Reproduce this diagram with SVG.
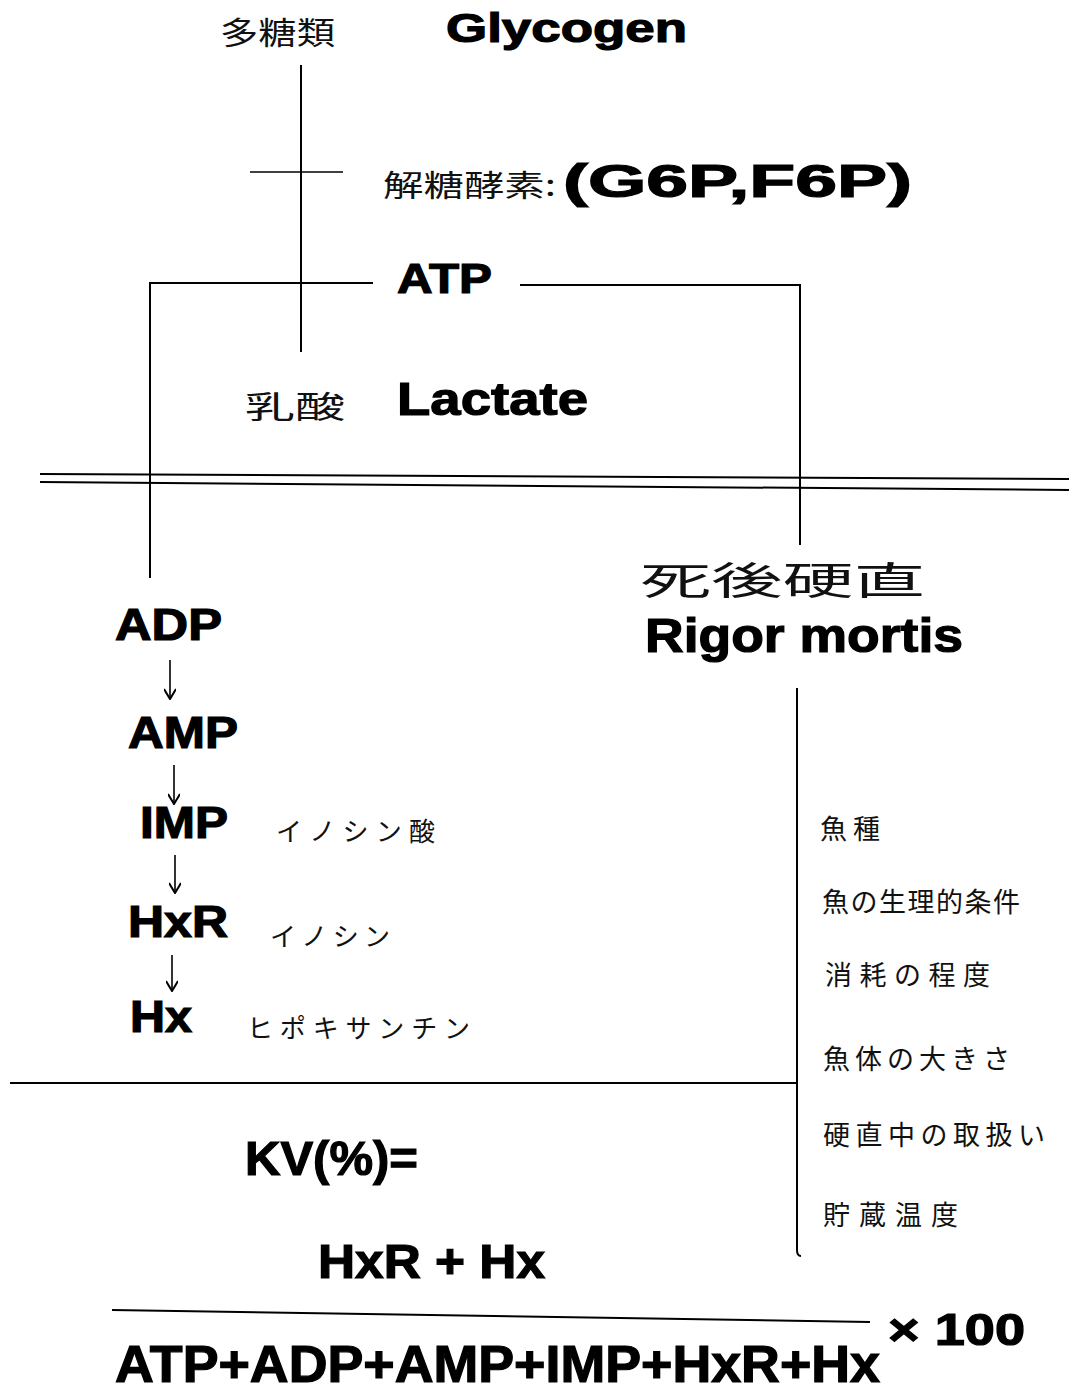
<svg xmlns="http://www.w3.org/2000/svg" width="1069" height="1391" viewBox="0 0 1069 1391">
<defs>
<marker id="ah" viewBox="0 0 12 12" refX="11" refY="6" markerWidth="12" markerHeight="12" markerUnits="userSpaceOnUse" orient="auto">
<path d="M1 0 L11 6 L1 12" fill="none" stroke="#000" stroke-width="2"/>
</marker>
<style>
.b{font-family:"Liberation Sans","DejaVu Sans",Arial,sans-serif;font-weight:bold;fill:#000;stroke:#000;stroke-width:1.2}
.j{font-family:"Noto Sans CJK JP","Noto Sans CJK SC",sans-serif;font-weight:normal;fill:#111}
.ln{stroke:#000;stroke-width:2;fill:none}
.th{stroke:#000;stroke-width:1.6;fill:none}
</style>
</defs>
<rect width="1069" height="1391" fill="#fff"/>
<g id="connectors">
<line class="ln" x1="301" y1="65" x2="301" y2="352"/>
<line class="th" x1="250" y1="172" x2="343" y2="172"/>
<polyline class="ln" points="373,283 150,283 150,578"/>
<polyline class="ln" points="520,285 800,285 800,545"/>
<line class="ln" x1="40" y1="474" x2="1069" y2="479"/>
<line class="ln" x1="40" y1="482" x2="1069" y2="490"/>
<path class="ln" d="M797 688 L797 1250 Q797 1256 801 1256"/>
<line class="ln" x1="10" y1="1083" x2="797" y2="1083"/>
<line class="ln" x1="112" y1="1310" x2="870" y2="1322"/>
<line class="th" x1="170" y1="660" x2="170" y2="699" marker-end="url(#ah)"/>
<line class="th" x1="174" y1="765" x2="174" y2="804" marker-end="url(#ah)"/>
<line class="th" x1="175" y1="855" x2="175" y2="893" marker-end="url(#ah)"/>
<line class="th" x1="172" y1="955" x2="172" y2="991" marker-end="url(#ah)"/>
</g>
<g id="glycogen">
<text class="j" x="220" y="44" font-size="31" textLength="115" lengthAdjust="spacingAndGlyphs">多糖類</text>
<text class="b" x="446" y="42" font-size="41" textLength="241" lengthAdjust="spacingAndGlyphs">Glycogen</text>
</g>
<g id="enzyme">
<text class="j" x="383" y="196" font-size="30" textLength="173" lengthAdjust="spacingAndGlyphs">解糖酵素:</text>
<text class="b" x="563" y="197" font-size="46" textLength="349" lengthAdjust="spacingAndGlyphs">(G6P,F6P)</text>
</g>
<g id="atp">
<text class="b" x="397" y="293" font-size="43" textLength="95" lengthAdjust="spacingAndGlyphs">ATP</text>
</g>
<g id="lactate">
<text class="j" x="245" y="418" font-size="31" textLength="100" lengthAdjust="spacingAndGlyphs">乳酸</text>
<text class="b" x="397" y="415" font-size="47" textLength="191" lengthAdjust="spacingAndGlyphs">Lactate</text>
</g>
<g id="rigor">
<text class="j" x="640" y="594" font-size="38" textLength="285" lengthAdjust="spacingAndGlyphs">死後硬直</text>
<text class="b" x="645" y="652" font-size="48" textLength="318" lengthAdjust="spacingAndGlyphs">Rigor mortis</text>
</g>
<g id="adp"><text class="b" x="115" y="640" font-size="44" textLength="107" lengthAdjust="spacingAndGlyphs">ADP</text></g>
<g id="amp"><text class="b" x="128" y="748" font-size="44" textLength="110" lengthAdjust="spacingAndGlyphs">AMP</text></g>
<g id="imp">
<text class="b" x="140" y="838" font-size="44" textLength="88" lengthAdjust="spacingAndGlyphs">IMP</text>
<text class="j" x="276" y="841" font-size="26" textLength="159" lengthAdjust="spacing">イノシン酸</text>
</g>
<g id="hxr">
<text class="b" x="128" y="937" font-size="44" textLength="100" lengthAdjust="spacingAndGlyphs">HxR</text>
<text class="j" x="270" y="946" font-size="26" textLength="120" lengthAdjust="spacing">イノシン</text>
</g>
<g id="hx">
<text class="b" x="130" y="1032" font-size="44" textLength="62" lengthAdjust="spacingAndGlyphs">Hx</text>
<text class="j" x="247" y="1038" font-size="26" textLength="223" lengthAdjust="spacing">ヒポキサンチン</text>
</g>
<g id="factors">
<text class="j" x="820" y="839" font-size="27" textLength="60" lengthAdjust="spacing">魚種</text>
<text class="j" x="822" y="912" font-size="27" textLength="198" lengthAdjust="spacing">魚の生理的条件</text>
<text class="j" x="825" y="985" font-size="27" textLength="165" lengthAdjust="spacing">消耗の程度</text>
<text class="j" x="823" y="1069" font-size="27" textLength="187" lengthAdjust="spacing">魚体の大きさ</text>
<text class="j" x="823" y="1145" font-size="27" textLength="222" lengthAdjust="spacing">硬直中の取扱い</text>
<text class="j" x="823" y="1225" font-size="27" textLength="135" lengthAdjust="spacing">貯蔵温度</text>
</g>
<g id="kv">
<text class="b" x="245" y="1175" font-size="48" textLength="173" lengthAdjust="spacingAndGlyphs">KV(%)=</text>
<text class="b" x="318" y="1278" font-size="48" textLength="227" lengthAdjust="spacingAndGlyphs">HxR + Hx</text>
<text class="b" x="888" y="1345" font-size="44" textLength="137" lengthAdjust="spacingAndGlyphs">× 100</text>
<text class="b" x="115" y="1382" font-size="51" textLength="765" lengthAdjust="spacingAndGlyphs">ATP+ADP+AMP+IMP+HxR+Hx</text>
</g>
</svg>
